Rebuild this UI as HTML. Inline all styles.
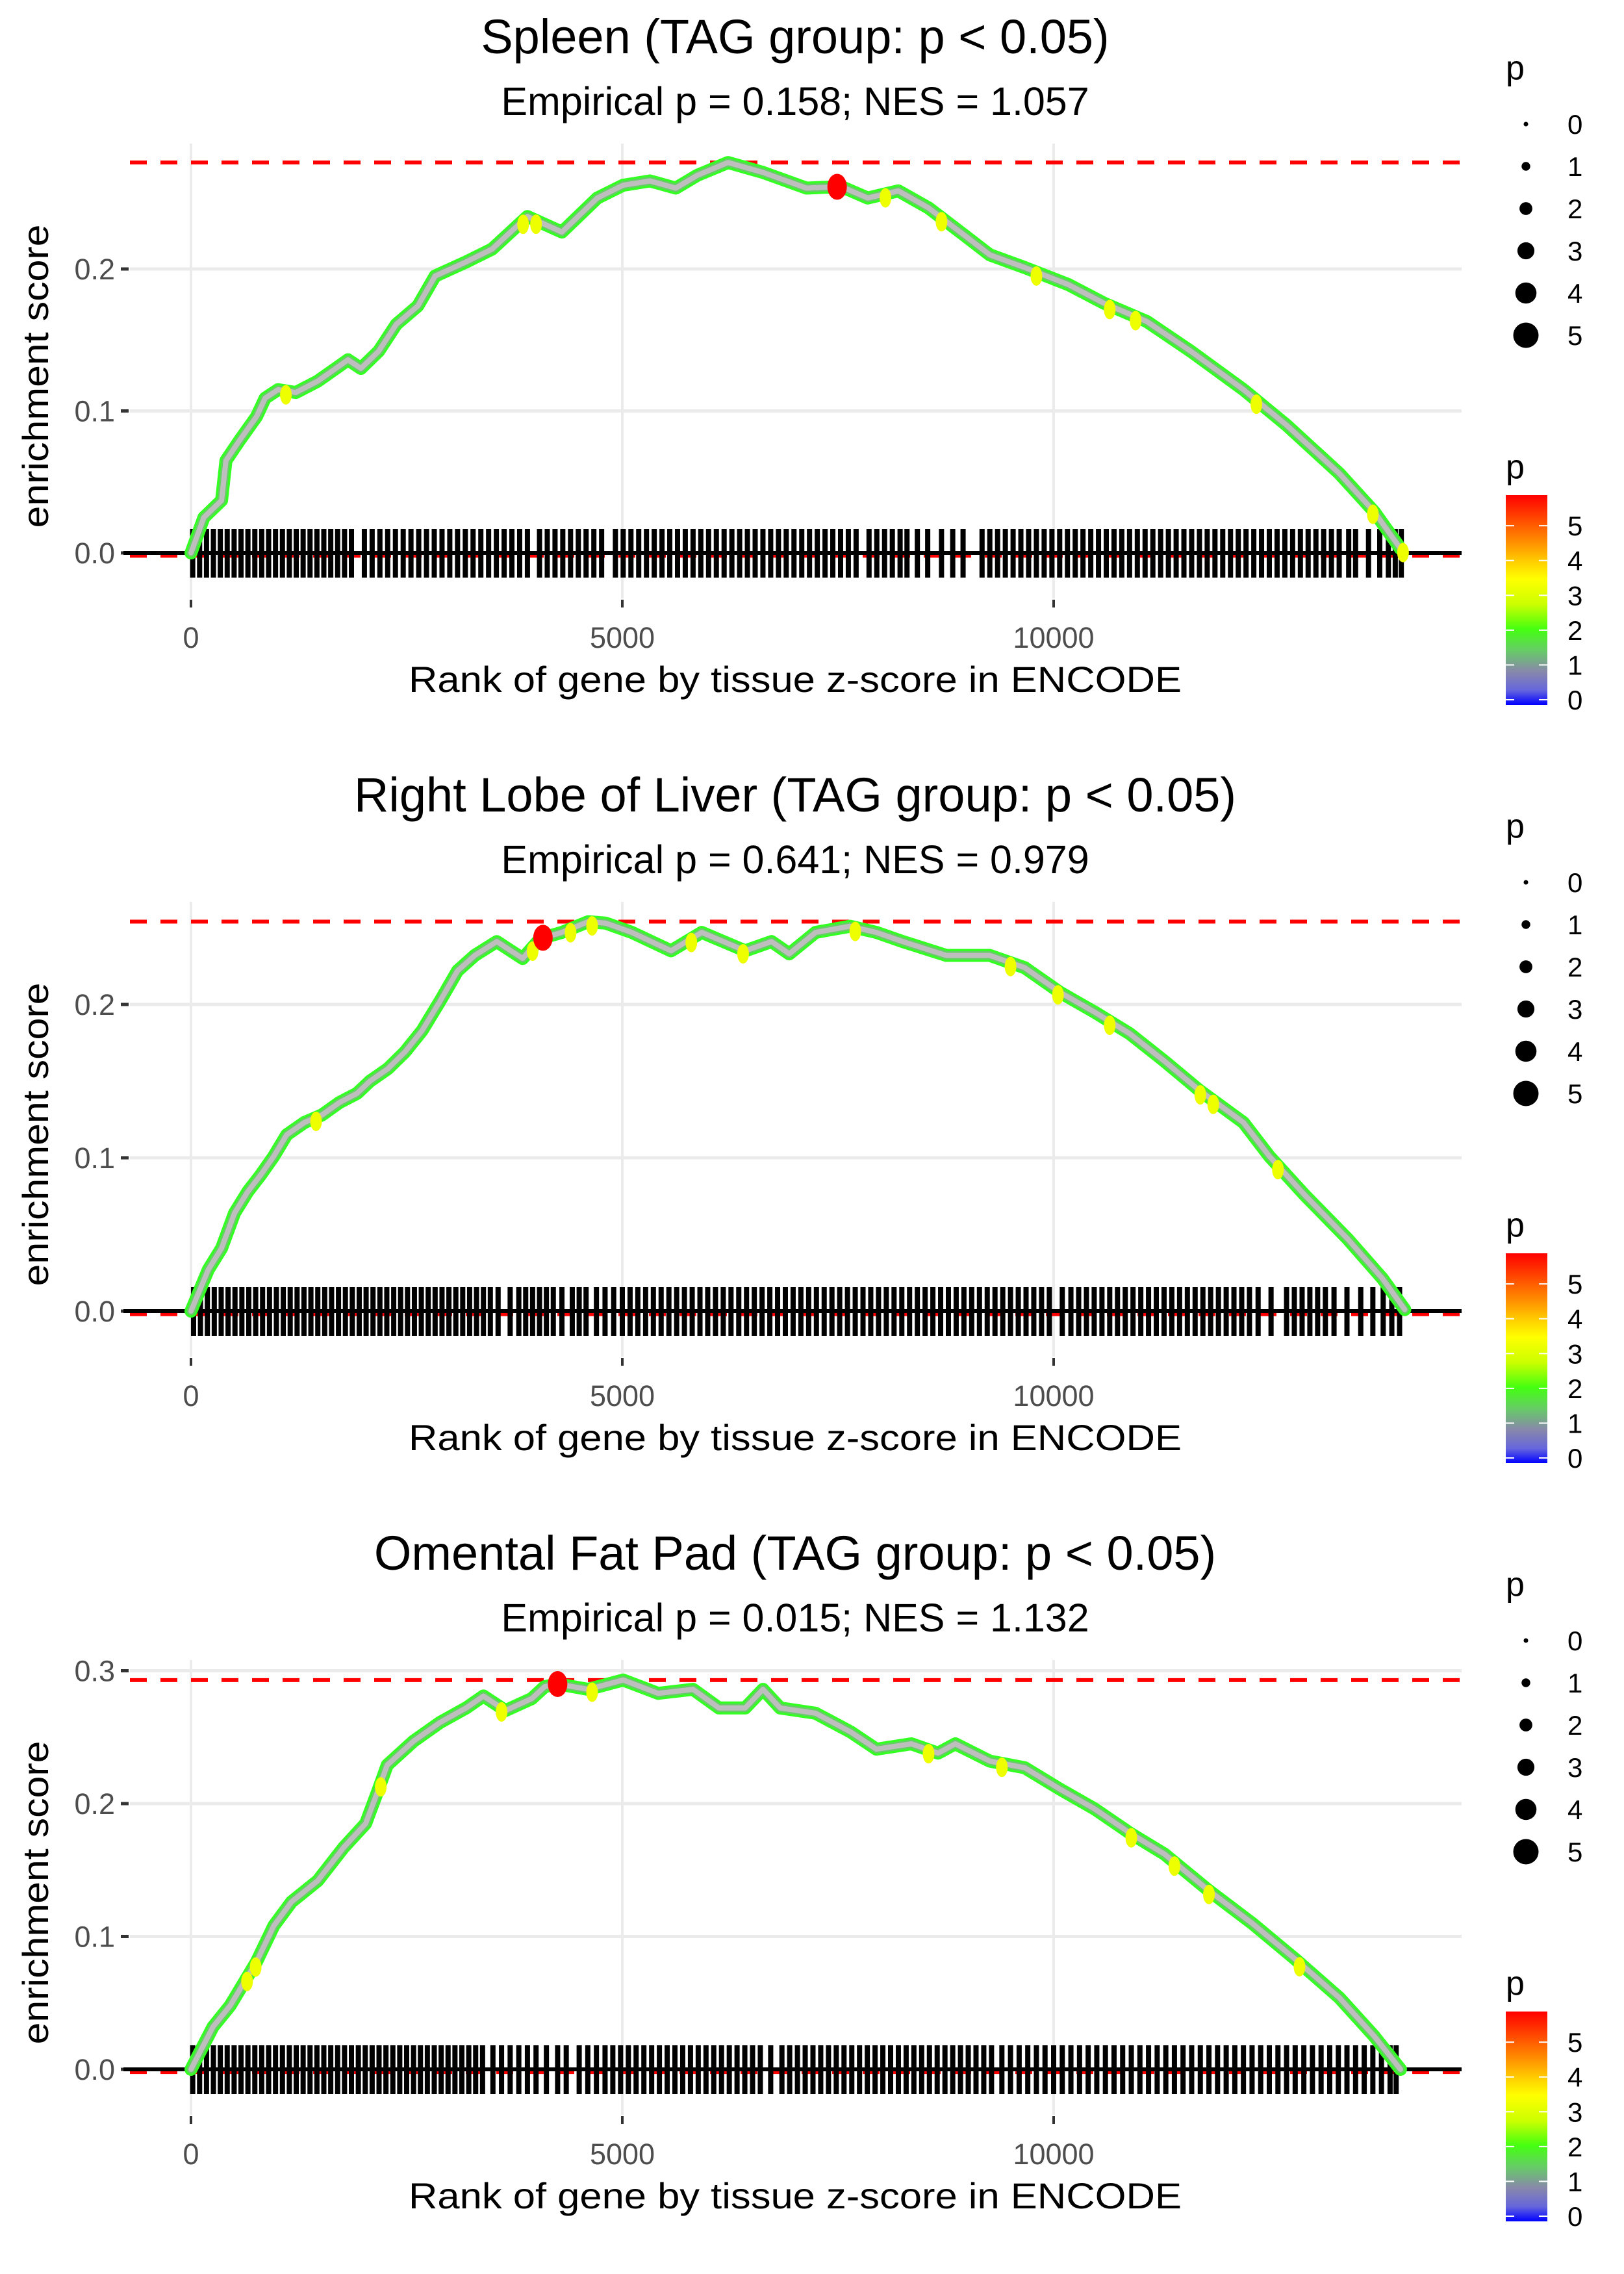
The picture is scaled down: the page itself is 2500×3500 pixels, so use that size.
<!DOCTYPE html>
<html><head><meta charset="utf-8"><style>
html,body{margin:0;padding:0;background:#fff;}
svg{display:block;font-family:"Liberation Sans",sans-serif;}
</style></head><body>
<svg id="chart" width="2500" height="3500" viewBox="0 0 2500 3500" xmlns="http://www.w3.org/2000/svg">
<defs>
<linearGradient id="pgrad" x1="0" y1="0" x2="0" y2="1">
<stop offset="0" stop-color="#ff0000"/>
<stop offset="0.22" stop-color="#ff8c00"/>
<stop offset="0.32" stop-color="#ffd000"/>
<stop offset="0.40" stop-color="#ffff00"/>
<stop offset="0.52" stop-color="#ccff00"/>
<stop offset="0.64" stop-color="#44ff11"/>
<stop offset="0.74" stop-color="#66cc66"/>
<stop offset="0.84" stop-color="#8888aa"/>
<stop offset="0.93" stop-color="#6666dd"/>
<stop offset="1" stop-color="#0000ff"/>
</linearGradient>
</defs>
</svg>
<script>
const titles = ["Spleen (TAG group: p < 0.05)", "Right Lobe of Liver (TAG group: p < 0.05)", "Omental Fat Pad (TAG group: p < 0.05)"];
const subtitles = ["Empirical p = 0.158; NES = 1.057", "Empirical p = 0.641; NES = 0.979", "Empirical p = 0.015; NES = 1.132"];
const xTicks = [0, 5000, 10000];
const xTickLabels = ["0", "5000", "10000"];
const yTicks1 = [0, 0.1, 0.2];
const yTicks2 = [0, 0.1, 0.2];
const yTicks3 = [0, 0.1, 0.2, 0.3];
const yTickLabels1 = ["0.0", "0.1", "0.2"];
const yTickLabels2 = ["0.0", "0.1", "0.2"];
const yTickLabels3 = ["0.0", "0.1", "0.2", "0.3"];
const minES = [-0.002, -0.002, -0.002];

const rank1 = [0,150,355,405,560,760,860,1010,1215,1470,1820,1970,2175,2380,2630,2830,3190,3490,3900,4300,4710,5010,5320,5620,5870,6225,6630,7135,7540,7845,8200,8550,8960,9260,9665,10170,10580,11080,11590,12200,12700,13310,13715,14020];
const es1 = [0,0.025,0.037,0.065,0.079,0.096,0.109,0.115,0.113,0.121,0.136,0.130,0.142,0.161,0.174,0.195,0.205,0.214,0.237,0.226,0.250,0.259,0.262,0.257,0.266,0.275,0.268,0.257,0.258,0.250,0.255,0.243,0.224,0.210,0.201,0.189,0.176,0.163,0.142,0.115,0.090,0.056,0.029,0.003];
const rank2 = [0,200,355,505,660,810,960,1110,1315,1520,1720,1925,2075,2280,2480,2680,2885,3090,3290,3545,3845,4050,4300,4605,4810,5110,5565,5920,6425,6730,6935,7240,7640,7945,8250,8755,9260,9665,10070,10475,10880,11285,11690,12200,12500,12905,13410,13815,14070];
const es2 = [0,0.027,0.041,0.064,0.078,0.089,0.101,0.115,0.123,0.128,0.136,0.142,0.150,0.158,0.169,0.183,0.202,0.222,0.232,0.241,0.230,0.243,0.247,0.254,0.253,0.247,0.235,0.247,0.235,0.241,0.233,0.247,0.251,0.247,0.241,0.232,0.232,0.224,0.208,0.195,0.181,0.163,0.144,0.123,0.101,0.076,0.047,0.021,0.001];
const rank3 = [0,255,455,760,960,1165,1470,1770,2025,2175,2275,2580,2885,3190,3390,3645,3950,4100,4250,4605,5010,5415,5820,6120,6425,6630,6830,7240,7645,7945,8350,8660,8860,9260,9665,10070,10475,10880,11285,11790,12300,12800,13310,13715,14020];
const es3 = [0,0.032,0.048,0.081,0.108,0.126,0.142,0.167,0.185,0.211,0.229,0.247,0.261,0.272,0.281,0.270,0.279,0.288,0.290,0.286,0.293,0.283,0.286,0.272,0.272,0.286,0.272,0.268,0.254,0.241,0.245,0.238,0.245,0.232,0.227,0.211,0.196,0.178,0.162,0.135,0.110,0.083,0.054,0.025,0];

const peakRank = [7490, 4080, 4250];
const yellowRanks1 = [1100,3850,4000,8050,8700,9800,10650,10950,12350,13700,14050];
const yellowRanks2 = [1450,3960,4400,4650,5800,6400,7700,9500,10050,10650,11700,11850,12600];
const yellowRanks3 = [650,750,2200,3600,4650,8550,9400,10900,11400,11800,12850];

const rug1 = [20,100,180,260,340,420,500,580,660,740,820,900,980,1060,1140,1220,1300,1380,1460,1540,1620,1700,1780,1860,2010,2100,2190,2280,2370,2460,2550,2640,2730,2820,2910,3000,3090,3180,3270,3360,3450,3540,3630,3720,3810,3900,4040,4130,4220,4310,4400,4490,4580,4670,4760,4920,5010,5100,5190,5280,5370,5460,5550,5640,5730,5820,5910,6000,6090,6180,6270,6360,6450,6540,6630,6720,6810,6900,6990,7080,7170,7260,7350,7440,7530,7620,7710,7860,7950,8040,8130,8220,8300,8420,8540,8700,8830,8950,9170,9260,9350,9440,9530,9620,9710,9800,9890,9980,10070,10160,10250,10340,10430,10520,10610,10700,10790,10880,10970,11060,11150,11240,11330,11420,11510,11600,11690,11780,11870,11960,12050,12140,12230,12320,12410,12500,12590,12680,12770,12860,12950,13040,13130,13220,13310,13420,13500,13650,13780,13880,13960,14030];
const rug2 = [30,110,190,270,350,430,510,590,670,750,830,910,990,1070,1150,1230,1310,1390,1470,1550,1630,1710,1790,1870,1950,2030,2110,2190,2270,2350,2430,2510,2590,2670,2750,2830,2910,2990,3070,3150,3230,3310,3390,3470,3560,3700,3800,3880,3960,4040,4120,4200,4300,4420,4500,4580,4700,4800,4900,5000,5090,5180,5270,5360,5450,5540,5630,5720,5810,5900,5990,6080,6170,6260,6350,6440,6530,6620,6710,6800,6890,6980,7070,7160,7250,7340,7430,7520,7610,7700,7790,7880,7970,8060,8150,8240,8330,8420,8510,8600,8690,8780,8870,8960,9050,9140,9230,9320,9410,9500,9590,9680,9770,9860,9950,10100,10200,10290,10380,10470,10560,10650,10740,10830,10920,11010,11100,11190,11280,11370,11460,11550,11640,11730,11820,11910,12000,12090,12180,12270,12370,12520,12700,12790,12880,12970,13060,13150,13250,13400,13560,13700,13820,13920,14010];
const rug3 = [20,100,180,260,340,420,500,580,660,740,820,900,980,1060,1140,1220,1300,1380,1460,1540,1620,1700,1780,1860,1940,2020,2100,2180,2260,2340,2420,2500,2580,2660,2740,2820,2900,2980,3060,3140,3220,3300,3380,3500,3600,3700,3800,3900,4000,4120,4250,4350,4500,4600,4700,4800,4890,4980,5070,5160,5250,5340,5430,5520,5610,5700,5790,5880,5970,6060,6150,6240,6330,6420,6510,6600,6720,6850,6940,7030,7120,7210,7300,7390,7480,7570,7660,7750,7840,7930,8020,8110,8200,8290,8380,8470,8560,8650,8740,8830,8920,9010,9100,9190,9280,9400,9500,9600,9700,9800,9900,10000,10100,10200,10300,10400,10500,10600,10700,10800,10900,11000,11100,11200,11300,11400,11500,11600,11700,11800,11900,12000,12100,12200,12300,12400,12500,12600,12700,12800,12900,13000,13100,13200,13300,13400,13500,13600,13700,13800,13900,13970];

const sizeLegendVals = [0, 1, 2, 3, 4, 5];
const colorLegendVals = [0, 1, 2, 3, 4, 5];
const colorLegendMax = 5.88;

const NS = "http://www.w3.org/2000/svg";
const svg = document.getElementById("chart");
const ZERO = [851, 2018, 3185];
const PER = [2185, 2360, 2045];
const PLEFT = 200, PRIGHT = 2250;
function X(r) { return 294 + r * 0.1328; }
function mk(tag, attrs, parent) {
  const e = document.createElementNS(NS, tag);
  for (const k in attrs) e.setAttribute(k, attrs[k]);
  (parent || svg).appendChild(e);
  return e;
}
function interp(rs, es, r) {
  for (let i = 1; i < rs.length; i++) {
    if (r <= rs[i]) { const t = (r - rs[i-1]) / (rs[i] - rs[i-1]); return es[i-1] + t * (es[i] - es[i-1]); }
  }
  return es[es.length - 1];
}
const panels = [
  {ranks: rank1, es: es1, yt: yTicks1, ytl: yTickLabels1, rug: rug1, yel: yellowRanks1},
  {ranks: rank2, es: es2, yt: yTicks2, ytl: yTickLabels2, rug: rug2, yel: yellowRanks2},
  {ranks: rank3, es: es3, yt: yTicks3, ytl: yTickLabels3, rug: rug3, yel: yellowRanks3}
];
panels.forEach((p, k) => {
  const z = ZERO[k], per = PER[k];
  const Y = v => z - v * per;
  const g = mk("g", {});
  
  
  const top = z - 630, bot = z + 70;
  p.yt.forEach((v, i) => {
    const l = mk("line", {x1: PLEFT, x2: PRIGHT, y1: Y(v), y2: Y(v), stroke: "#ebebeb", "stroke-width": 5}, g);
    
    
    const tk = mk("line", {x1: 186, x2: 198, y1: Y(v), y2: Y(v), stroke: "#333", "stroke-width": 5}, g);
    
    
    const t = mk("text", {x: 177, y: Y(v) + 16, "text-anchor": "end", "font-size": 45, fill: "#4d4d4d"}, g);
    t.textContent = p.ytl[i];
    
    
  });
  xTicks.forEach((v, i) => {
    const l = mk("line", {x1: X(v), x2: X(v), y1: top, y2: bot, stroke: "#ebebeb", "stroke-width": 4}, g);
    
    
    const tk = mk("line", {x1: X(v), x2: X(v), y1: bot + 2, y2: bot + 14, stroke: "#333", "stroke-width": 4}, g);
    
    
    const t = mk("text", {x: X(v), y: z + 146, "text-anchor": "middle", "font-size": 45, fill: "#4d4d4d"}, g);
    t.textContent = xTickLabels[i];
    
    
  });
  const maxES = Math.max.apply(null, p.es);
  [maxES, minES[k]].forEach(v => {
    const l = mk("line", {x1: PLEFT, x2: PRIGHT, y1: Y(v), y2: Y(v), stroke: "#ff0000", "stroke-width": 6, "stroke-dasharray": "26 21"}, g);
    
    
  });
  p.rug.forEach(r => {
    const l = mk("line", {x1: X(r), x2: X(r), y1: z - 37, y2: z + 38, stroke: "#000", "stroke-width": 8}, g);
    
    
  });
  const zl = mk("line", {x1: PLEFT - 10, x2: PRIGHT, y1: z, y2: z, stroke: "#000", "stroke-width": 6}, g);
  
  
  const d = p.ranks.map((r, i) => (i ? "L" : "M") + X(r).toFixed(1) + "," + Y(p.es[i]).toFixed(1)).join(" ");
  [["#33ff22", 20], ["#66cc66", 13], ["#bebebe", 8]].forEach(([c, w], j) => {
    const path = mk("path", {d: d, fill: "none", stroke: c, "stroke-width": w, "stroke-linejoin": "round", "stroke-linecap": "round"}, g);
    
    
  });
  p.yel.forEach(r => {
    const c = mk("ellipse", {cx: X(r), cy: Y(interp(p.ranks, p.es, r)) + 6, rx: 9, ry: 15, fill: "#eeff00"}, g);
    
    
  });
  const pk = mk("ellipse", {cx: X(peakRank[k]), cy: Y(interp(p.ranks, p.es, peakRank[k])), rx: 15, ry: 20, fill: "#ff0000"}, g);
  
  
  const tt = mk("text", {x: 1224, y: z - 769, "text-anchor": "middle", "font-size": 74, fill: "#000"}, g);
  tt.textContent = titles[k];
  
  
  const st = mk("text", {x: 1224, y: z - 674, "text-anchor": "middle", "font-size": 61, fill: "#000"}, g);
  st.textContent = subtitles[k];
  
  
  const xt = mk("text", {x: 1224, y: z + 214, "text-anchor": "middle", "font-size": 56, fill: "#000", textLength: 1190, lengthAdjust: "spacingAndGlyphs"}, g);
  xt.textContent = "Rank of gene by tissue z-score in ENCODE";
  
  
  const yt = mk("text", {x: 0, y: 0, "text-anchor": "middle", "font-size": 56, fill: "#000", textLength: 467, lengthAdjust: "spacingAndGlyphs", transform: "translate(74," + (z - 272) + ") rotate(-90)"}, g);
  yt.textContent = "enrichment score";
  
  
  const lt = mk("text", {x: 2318, y: z - 729, "font-size": 52, fill: "#000"}, g);
  lt.textContent = "p";
  
  
  sizeLegendVals.forEach((v, i) => {
    const cy = z - 660 + i * 65;
    const c = mk("circle", {cx: 2349, cy: cy, r: 3.5 + v * 3.2, fill: "#000"}, g);
    
    
    const t = mk("text", {x: 2413, y: cy + 15, "font-size": 42, fill: "#000"}, g);
    t.textContent = String(v);
    
    
  });
  const ct = mk("text", {x: 2318, y: z - 115, "font-size": 52, fill: "#000"}, g);
  ct.textContent = "p";
  
  
  const cbTop = z - 89, cbBot = z + 234;
  const CY = v => cbBot - 8 - v * (cbBot - 8 - cbTop) / colorLegendMax;
  const bar = mk("rect", {x: 2318, y: cbTop, width: 64, height: cbBot - cbTop, fill: "url(#pgrad)"}, g);
  
  
  colorLegendVals.forEach(v => {
    const y = CY(v);
    [[2318, 2331], [2369, 2382]].forEach(([a, b]) => {
      const l = mk("line", {x1: a, x2: b, y1: y, y2: y, stroke: "#fff", "stroke-width": 2}, g);
      
      
    });
    const t = mk("text", {x: 2413, y: y + 15, "font-size": 42, fill: "#000"}, g);
    t.textContent = String(v);
    
    
  });
});
</script>
</body></html>
